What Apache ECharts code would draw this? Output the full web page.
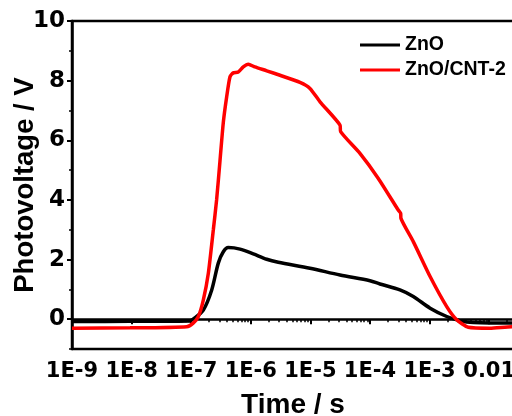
<!DOCTYPE html>
<html>
<head>
<meta charset="utf-8">
<script src="https://cdn.jsdelivr.net/npm/echarts@6/dist/echarts.min.js"></script>
<style>
  html, body { margin: 0; padding: 0; background: #fff; }
  #chart { width: 512px; height: 416px; }
</style>
</head>
<body>
<div id="chart"></div>
<script>
// time (s) and photovoltage (V)
var znoTime = [1e-9, 9.4e-9, 9.5e-8, 1.08e-7, 1.6e-7, 2.21e-7, 2.85e-7, 3.46e-7, 4.19e-7, 6.59e-7,
  1.10e-6, 1.85e-6, 2.89e-6, 9.84e-6, 3.14e-5, 1e-4, 1.47e-4, 3.18e-4, 5.33e-4, 1.02e-3,
  1.94e-3, 3.24e-3, 5.41e-3, 0.0239, 0.027];
var znoVolt = [-0.08, -0.07, -0.06, 0.0, 0.31, 0.98, 1.88, 2.26, 2.40, 2.35,
  2.19, 2.01, 1.91, 1.71, 1.48, 1.29, 1.18, 0.98, 0.76, 0.37,
  0.09, -0.05, -0.11, -0.13, -0.13];

var cntTime = [1e-9, 9.4e-9, 8.4e-8, 1.08e-7, 1.32e-7, 1.6e-7, 1.94e-7, 2.35e-7, 2.67e-7, 3.04e-7,
  3.46e-7, 3.94e-7, 4.48e-7, 5.08e-7, 6.17e-7, 7.48e-7, 9.08e-7, 1.17e-6, 1.85e-6, 3.09e-6,
  6.70e-6, 9.84e-6, 1.45e-5, 3.14e-5, 3.22e-5, 6.79e-5, 1.38e-4, 2.98e-4, 3.27e-4, 3.31e-4,
  5.33e-4, 1.02e-3, 1.94e-3, 2.85e-3, 4.46e-3, 1.03e-2, 0.0239, 0.027];
var cntVolt = [-0.30, -0.29, -0.25, -0.13, 0.09, 0.65, 1.54, 2.99, 4.0, 5.3,
  6.6, 7.46, 8.13, 8.26, 8.29, 8.46, 8.55, 8.46, 8.33, 8.18,
  7.94, 7.74, 7.29, 6.51, 6.29, 5.56, 4.72, 3.66, 3.55, 3.38,
  2.60, 1.43, 0.42, -0.02, -0.27, -0.30, -0.25, -0.25];

var xMajor = [1e-9, 1e-8, 1e-7, 1e-6, 1e-5, 1e-4, 1e-3, 1e-2];
var yMajor = [0, 2, 4, 6, 8, 10];
var yMinor = [-1, 1, 3, 5, 7, 9];

var xMin = 1e-9, xMax = 0.0261;

// minor ticks of the log axis: 2..9 in every decade
var xMinor = [];
xMajor.forEach(function (d) {
  for (var k = 2; k <= 9; k++) {
    var v = +(k * d).toPrecision(3);
    if (v < xMax) xMinor.push(v);
  }
});

function pairs(t, v) {
  return t.map(function (e, i) { return [e, v[i]]; });
}

var arial = 'Liberation Sans, Arial, sans-serif';
var wide = 'DejaVu Sans';  // tick labels in the picture are wide
var chart = echarts.init(document.getElementById('chart'));
chart.setOption({
  animation: false,
  grid: {
    left: 72, right: -2, top: 21, bottom: 67,
    containLabel: false, outerBoundsMode: 'none',
    show: true, borderColor: '#000', borderWidth: 2.5
  },
  legend: {
    orient: 'vertical',
    left: 360, top: 35, padding: 0,
    icon: 'rect', itemWidth: 40, itemHeight: 3, itemGap: 5,
    textStyle: { fontFamily: arial, fontWeight: 'bold', fontSize: 19.5, lineHeight: 19, color: '#000' },
    data: ['ZnO', 'ZnO/CNT-2']
  },
  xAxis: [
    {
      type: 'log', min: xMin, max: xMax,
      name: 'Time / s', nameLocation: 'middle', nameGap: 42, nameMoveOverlap: false,
      nameTextStyle: { fontFamily: arial, fontWeight: 'bold', fontSize: 28, color: '#000' },
      axisLine: { lineStyle: { color: '#000', width: 2.5 } },
      axisTick: { length: 5, lineStyle: { width: 2 }, customValues: xMajor },
      axisLabel: {
        customValues: xMajor, margin: 12,
        fontFamily: wide, fontWeight: 'bold', fontSize: 21, color: '#000',
        formatter: function (v) {
          var e = Math.round(Math.log10(v));
          return e >= -2 ? '0.01' : '1E' + e;
        }
      },
      splitLine: { show: false }
    },
    {
      type: 'log', min: xMin, max: xMax, position: 'bottom',
      axisLine: { show: false },
      axisTick: { length: 3, lineStyle: { color: '#000', width: 1.5 }, customValues: xMinor },
      axisLabel: { show: false },
      splitLine: { show: false }
    }
  ],
  yAxis: [
    {
      type: 'value', min: -1, max: 10,
      name: 'Photovoltage / V', nameLocation: 'middle', nameGap: 33, nameMoveOverlap: false,
      nameTextStyle: { fontFamily: arial, fontWeight: 'bold', fontSize: 27.5, color: '#000' },
      axisLine: { show: true, lineStyle: { color: '#000', width: 2.5 } },
      axisTick: { show: true, length: 5, lineStyle: { width: 2 }, customValues: yMajor },
      axisLabel: {
        customValues: yMajor, margin: 7,
        fontFamily: wide, fontWeight: 'bold', fontSize: 23, color: '#000'
      },
      splitLine: { show: false }
    },
    {
      type: 'value', min: -1, max: 10, position: 'left',
      axisLine: { show: false },
      axisTick: { show: true, length: 3, lineStyle: { color: '#000', width: 1.5 }, customValues: yMinor },
      axisLabel: { show: false },
      splitLine: { show: false }
    }
  ],
  series: [
    {
      name: 'ZnO', type: 'line', symbol: 'none', smooth: 0.3,
      lineStyle: { color: '#000', width: 3.5 }, itemStyle: { color: '#000' },
      data: pairs(znoTime, znoVolt)
    },
    {
      name: 'ZnO/CNT-2', type: 'line', symbol: 'none', smooth: 0.2,
      lineStyle: { color: '#ff0000', width: 3.5 }, itemStyle: { color: '#ff0000' },
      data: pairs(cntTime, cntVolt)
    }
  ]
});
</script>
</body>
</html>
